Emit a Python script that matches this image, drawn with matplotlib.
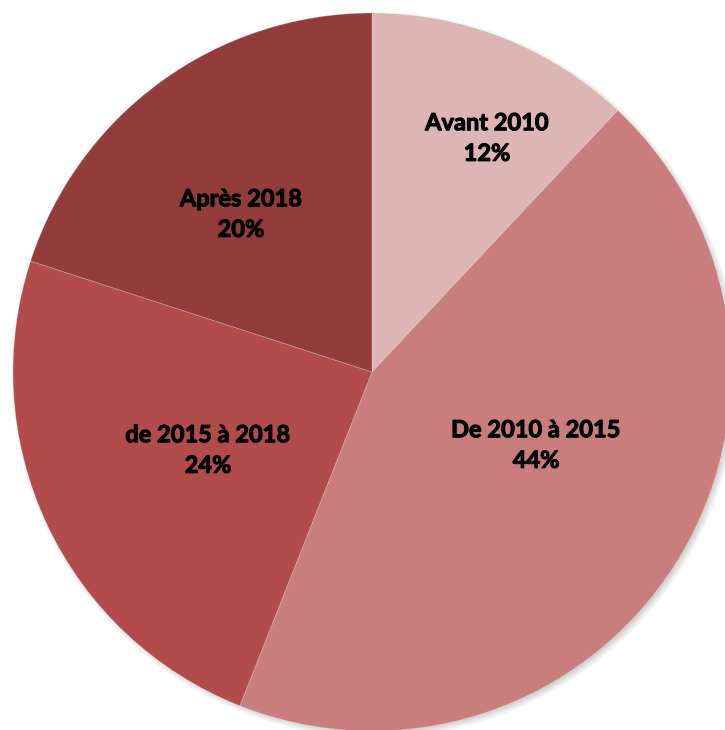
import matplotlib.pyplot as plt
import matplotlib.patheffects as pe
from matplotlib.patches import Circle

# Répartition par période
categories = ['Avant 2010', 'De 2010 à 2015', 'de 2015 à 2018', 'Après 2018']
shares = [12, 44, 24, 20]
colors = ['#DEB5B5', '#CA7D7D', '#B24B4B', '#943B3B']

# label centres, in pixels from the top-left corner
label_pos = [(487, 138), (536, 445), (208, 450), (241, 214)]

W, H = 725, 730
cx, cy, r = 372, H - 372, 359

fig = plt.figure(figsize=(W / 100, H / 100), dpi=100)
ax = fig.add_axes([0, 0, 1, 1])

# soft shadow behind the pie
for k in range(8):
    ax.add_patch(Circle((cx + 3, cy - 3), r + 4 - k, facecolor='black',
                        edgecolor='none', alpha=0.025, zorder=0))

wedges, _ = ax.pie(shares, colors=colors, startangle=90, counterclock=False,
                   center=(cx, cy), radius=r,
                   wedgeprops=dict(edgecolor=(1, 1, 1, 0.25), linewidth=0.6))
for w in wedges:
    w.set_zorder(1)

# Lato bold is a little light next to Calibri bold, thicken it slightly
thicker = [pe.withStroke(linewidth=0.8, foreground='black')]
for name, val, (x, y) in zip(categories, shares, label_pos):
    ax.text(x, H - y, f'{name}\n{val}%', ha='center', va='center',
            fontsize=17, fontweight='bold', family='Lato',
            linespacing=1.4, color='black', zorder=3, path_effects=thicker)

ax.set_xlim(0, W)
ax.set_ylim(0, H)
ax.set_aspect('equal')
ax.axis('off')

fig.savefig('out.png', dpi=100, facecolor='white')
